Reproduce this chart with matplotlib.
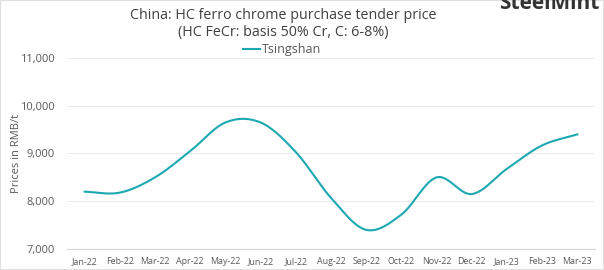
import matplotlib
matplotlib.use('Agg')
import matplotlib.pyplot as plt
import numpy as np

months = ['Jan-22', 'Feb-22', 'Mar-22', 'Apr-22', 'May-22', 'Jun-22', 'Jul-22', 'Aug-22',
          'Sep-22', 'Oct-22', 'Nov-22', 'Dec-22', 'Jan-23', 'Feb-23', 'Mar-23']
tsingshan = [8200, 8180, 8500, 9050, 9650, 9650, 9030, 8070,
             7400, 7720, 8500, 8150, 8680, 9170, 9400]
y_ticks = [7000, 8000, 9000, 10000, 11000]


def catmull_rom(x, y, steps=30):
    # smooth line through the points, like the "smoothed line" option in office charts
    x = np.asarray(x, float)
    y = np.asarray(y, float)
    px = np.concatenate([[2 * x[0] - x[1]], x, [2 * x[-1] - x[-2]]])
    py = np.concatenate([[2 * y[0] - y[1]], y, [2 * y[-1] - y[-2]]])
    xs, ys = [], []
    for i in range(1, len(px) - 2):
        t = np.linspace(0, 1, steps, endpoint=False)
        for p, out in ((px, xs), (py, ys)):
            p0, p1, p2, p3 = p[i - 1], p[i], p[i + 1], p[i + 2]
            out.append(0.5 * (2 * p1 + (-p0 + p2) * t
                              + (2 * p0 - 5 * p1 + 4 * p2 - p3) * t ** 2
                              + (-p0 + 3 * p1 - 3 * p2 + p3) * t ** 3))
    xs.append([x[-1]])
    ys.append([y[-1]])
    return np.concatenate(xs), np.concatenate(ys)


plt.rcParams['font.family'] = ['Open Sans', 'DejaVu Sans']
grey = '#595959'

fig = plt.figure(figsize=(6.04, 2.70), dpi=100)
ax = fig.add_axes([0.111, 0.078, 0.874, 0.707])

pos = np.arange(len(months))
sx, sy = catmull_rom(pos, tsingshan)
ax.plot(sx, sy, color='#1CA9B1', linewidth=1.5, label='Tsingshan')

ax.set_xlim(-0.5, len(months) - 0.5)
ax.set_ylim(7000, 11000)
ax.set_yticks(y_ticks)
ax.set_yticklabels([f'{v:,}' for v in y_ticks])
ax.set_xticks(pos)
ax.set_xticklabels(months)
ax.tick_params(axis='y', length=0, labelsize=8, colors=grey, pad=9)
ax.tick_params(axis='x', length=0, labelsize=6.4, colors=grey, pad=6)
ax.grid(axis='y', color='#EDEDED', linewidth=0.8)
ax.set_axisbelow(True)
for side in ['top', 'right', 'left']:
    ax.spines[side].set_visible(False)
ax.spines['bottom'].set_color('#D9D9D9')
ax.spines['bottom'].set_linewidth(0.9)

ax.set_ylabel('Prices in RMB/t', fontsize=8, color=grey)
ax.yaxis.set_label_coords(-0.085, 0.5)

fig.text(0.469, 0.944, 'China: HC ferro chrome purchase tender price', ha='center', va='center',
         fontsize=10.3, color='#404040')
fig.text(0.469, 0.879, '(HC FeCr: basis 50% Cr, C: 6-8%)', ha='center', va='center',
         fontsize=10.3, color='#404040')
ax.legend(loc='center', bbox_to_anchor=(0.407, 1.045), frameon=False, fontsize=9,
          handlelength=1.4, handletextpad=0.15, labelcolor=grey, borderpad=0)

fig.text(0.992, 0.965, 'SteelMint', ha='right', va='baseline', fontsize=15, fontweight='bold',
         color='#333333')

fig.patches.append(plt.Rectangle((0, 0), 1, 1, transform=fig.transFigure, fill=False,
                                 edgecolor='#E0E0E0', linewidth=1.5))

fig.savefig('out.png', dpi=100)
